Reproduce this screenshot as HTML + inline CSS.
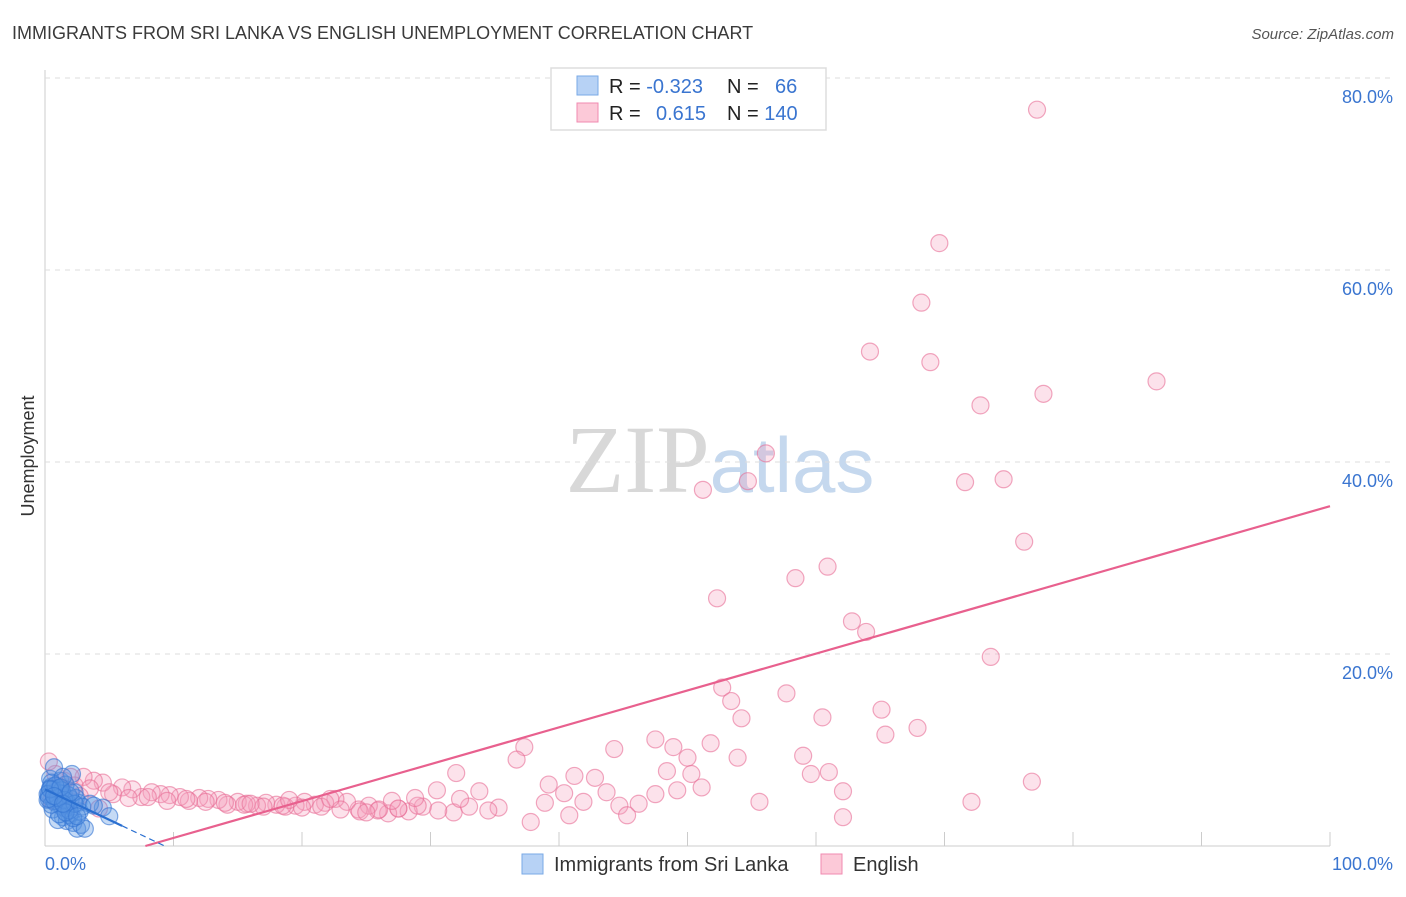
<!DOCTYPE html>
<html><head><meta charset="utf-8"><style>
body{margin:0;background:#fff;font-family:"Liberation Sans",sans-serif}
</style></head><body>
<svg width="1406" height="892" xmlns="http://www.w3.org/2000/svg">
<text x="12" y="39" font-size="18" fill="#3a3a3a">IMMIGRANTS FROM SRI LANKA VS ENGLISH UNEMPLOYMENT CORRELATION CHART</text>
<text x="1394" y="39" font-size="15" fill="#555" font-style="italic" text-anchor="end">Source: ZipAtlas.com</text>
<text x="34" y="456" font-size="18" fill="#333" text-anchor="middle" transform="rotate(-90 34 456)">Unemployment</text>
<text x="720" y="492" font-size="96" fill="#d8d8d8" text-anchor="middle" font-family="Liberation Serif">ZIP<tspan fill="#c5d8ee" font-family="Liberation Sans" font-size="78">atlas</tspan></text>
<g id="grid"></g><g id="pts"></g><g id="lines"></g>
<g>
<rect x="551" y="68" width="275" height="62" fill="#fff" stroke="#ddd" stroke-width="1.5"/>
<rect x="577" y="76" width="21" height="19" fill="#b7d2f5" stroke="#7aa9e6"/>
<rect x="577" y="103" width="21" height="19" fill="#fcc9d8" stroke="#f08ab0"/>
<text x="609" y="93" font-size="20" fill="#222">R = <tspan fill="#3a75d0">-0.323</tspan></text>
<text x="727" y="93" font-size="20" fill="#222">N = <tspan x="775" fill="#3a75d0">66</tspan></text>
<text x="609" y="120" font-size="20" fill="#222">R = <tspan x="656" fill="#3a75d0">0.615</tspan></text>
<text x="727" y="120" font-size="20" fill="#222">N = <tspan fill="#3a75d0">140</tspan></text>
</g>
<g>
<rect x="522" y="854" width="21" height="20" fill="#b7d2f5" stroke="#7aa9e6"/>
<text x="554" y="871" font-size="20" fill="#333">Immigrants from Sri Lanka</text>
<rect x="821" y="854" width="21" height="20" fill="#fcc9d8" stroke="#f08ab0"/>
<text x="853" y="871" font-size="20" fill="#333">English</text>
</g>
<text x="45" y="870" font-size="18" fill="#3a75d0">0.0%</text>
<text x="1393" y="870" font-size="18" fill="#3a75d0" text-anchor="end">100.0%</text>
</svg>
<script>
const yTicks=[20,40,60,80];
const xTicks=[0,10,20,30,40,50,60,70,80,90,100];
const pinkX=[77.2,69.6,68.2,64.2,68.9,86.5,77.7,72.8,56.1,54.7,51.2,71.6,74.6,76.2,60.9,58.4,52.3,62.8,63.9,73.6,52.7,57.7,53.4,65.1,54.2,60.5,67.9,65.4,47.5,51.8,37.3,44.3,48.9,36.7,50.0,53.9,59.0,48.4,50.3,59.6,61.0,76.8,41.2,42.8,33.8,39.2,40.4,43.7,47.5,51.1,49.2,62.1,55.6,72.1,44.7,46.2,41.9,38.9,37.8,40.8,45.3,62.1,35.3,34.5,33,31.8,32.3,30.6,29.4,28.3,27.5,26.7,25.9,25.2,24.4,23.5,22.6,21.8,21,20.2,19.5,18.7,18,17.2,16.5,15.7,15,14.2,13.5,12.7,12,11.2,10.5,9.7,9,8.3,7.5,6.8,6,5.3,4.5,3.8,3,2.3,1.5,0.8,0.3,2,3.5,5,6.5,8,9.5,11,12.5,14,15.5,17,18.5,20,21.5,23,24.5,26,27.5,29,30.5,32,1,2.7,4.2,0.5,28.8,27,25,22.2,19,16];
const pinkY=[76.7,62.8,56.6,51.5,50.4,48.4,47.1,45.9,40.9,38,37.1,37.9,38.2,31.7,29.1,27.9,25.8,23.4,22.3,19.7,16.5,15.9,15.1,14.2,13.3,13.4,12.3,11.6,11.1,10.7,10.3,10.1,10.3,9,9.2,9.2,9.4,7.8,7.5,7.5,7.7,6.7,7.3,7.1,5.7,6.4,5.5,5.6,5.4,6.1,5.8,5.7,4.6,4.6,4.2,4.4,4.6,4.5,2.5,3.2,3.2,3,4,3.7,4.1,3.5,4.9,3.7,4.1,3.6,3.9,3.4,3.7,4.2,3.8,4.6,4.9,4.5,4.3,4.6,4.2,4.1,4.3,4.5,4.2,4.4,4.6,4.3,4.8,4.9,5,4.7,5.1,5.3,5.4,5.6,5.1,5.9,6.1,5.4,6.6,6.8,7.2,6.3,6.8,7.5,8.8,7.2,6,5.6,5,5.1,4.7,4.9,4.6,4.5,4.3,4.1,4.2,4.0,4.1,3.8,3.6,3.8,3.9,4.2,5.8,7.6,6.2,5.2,3.9,4.8,5,4.7,3.5,4.9,4.8,4.4];
const blueX=[0.3,0.5,0.8,1,1.2,1.5,1.8,2,2.3,2.6,0.4,0.7,1.1,1.4,1.7,2.1,0.2,0.6,0.9,1.3,1.6,1.9,2.2,2.5,0.3,0.8,1.2,1.6,2,0.5,1,1.5,2.4,2.8,3.1,4.5,5,3.5,0.6,1.4,2.7,0.9,1.7,0.4,1.1,1.8,2.2,0.7,1.3,2.9,0.2,0.5,0.8,1.0,1.5,1.9,2.3,0.4,1.2,1.6,0.3,0.7,1.4,2.0,3.8,2.5];
const blueY=[5.5,6.2,5,4.6,6.8,5.2,4.2,3.4,5.6,4.5,7,8.2,6,3,2.6,7.5,4.8,3.8,5.7,4.1,6.4,3.2,2.4,1.8,5.2,4.5,5.5,3.9,4.9,6.6,2.7,4.3,5,2.2,1.8,4,3.1,4.4,5.9,7.2,3.6,5.1,4.6,6,3.3,5.3,2.9,4.7,5.8,4.1,5.4,4.3,6.3,5,4.8,3.7,4.4,5.9,6.1,3.5,4.9,5.2,4.4,5.6,4.2,3.1];
const pinkTrend=[-3,35.4];
const blueTrend=[5.9,2.1];
const X0=45,X1=1330,Y0=846,Y80=78;
const xs=v=>X0+(X1-X0)*v/100, ys=v=>Y0-(Y0-Y80)*v/80;
const NS="http://www.w3.org/2000/svg";
function mk(t,a,p){const e=document.createElementNS(NS,t);for(const k in a)e.setAttribute(k,a[k]);p.appendChild(e);return e;}
const grid=document.getElementById('grid');
let ax=mk('line',{x1:X0,y1:70,x2:X0,y2:Y0,stroke:'#ccc'},grid);


let bx=mk('line',{x1:X0,y1:Y0,x2:X1,y2:Y0,stroke:'#ccc'},grid);


yTicks.forEach(t=>{
 const g=mk('line',{x1:X0,y1:ys(t),x2:1394,y2:ys(t),stroke:'#ddd','stroke-dasharray':'5,5'},grid);
 
 
 const l=mk('text',{x:1393,y:ys(t)+25,'font-size':18,fill:'#3a75d0','text-anchor':'end'},grid);
 l.textContent=t.toFixed(1)+'%';
 
 
});
xTicks.forEach(t=>{
 const k=mk('line',{x1:xs(t),y1:Y0-14,x2:xs(t),y2:Y0,stroke:'#ccc'},grid);
 
 
});
const pts=document.getElementById('pts');
pinkX.forEach((v,i)=>{
 if(pinkY[i]===undefined)return;
 const c=mk('circle',{cx:xs(v),cy:ys(pinkY[i]),r:8.5,fill:'rgba(246,160,190,0.3)',stroke:'rgba(232,110,150,0.6)','stroke-width':1.2},pts);
 
 
});
blueX.forEach((v,i)=>{
 if(blueY[i]===undefined)return;
 const c=mk('circle',{cx:xs(v),cy:ys(blueY[i]),r:8.5,fill:'rgba(90,150,225,0.35)',stroke:'rgba(50,115,210,0.6)','stroke-width':1.2},pts);
 
 
});
const lines=document.getElementById('lines');
const x0p=(0-pinkTrend[0])/(pinkTrend[1]-pinkTrend[0])*100;
let pl=mk('line',{x1:xs(x0p),y1:ys(0),x2:xs(100),y2:ys(pinkTrend[1]),stroke:'#e8608e','stroke-width':2.2},lines);


const bAt=x=>blueTrend[0]+(blueTrend[1]-blueTrend[0])*x/6;
const bz=blueTrend[0]/(blueTrend[0]-blueTrend[1])*6;
const bEnd=Math.min(bz,12);
let bl=mk('line',{x1:xs(0),y1:ys(blueTrend[0]),x2:xs(6),y2:ys(bAt(6)),stroke:'#2a6fd0','stroke-width':2.2},lines);


let bd=mk('line',{x1:xs(6),y1:ys(bAt(6)),x2:xs(bEnd),y2:ys(Math.max(bAt(bEnd),0)),stroke:'#2a6fd0','stroke-width':1.2,'stroke-dasharray':'6,4'},lines);


</script>
</body></html>
